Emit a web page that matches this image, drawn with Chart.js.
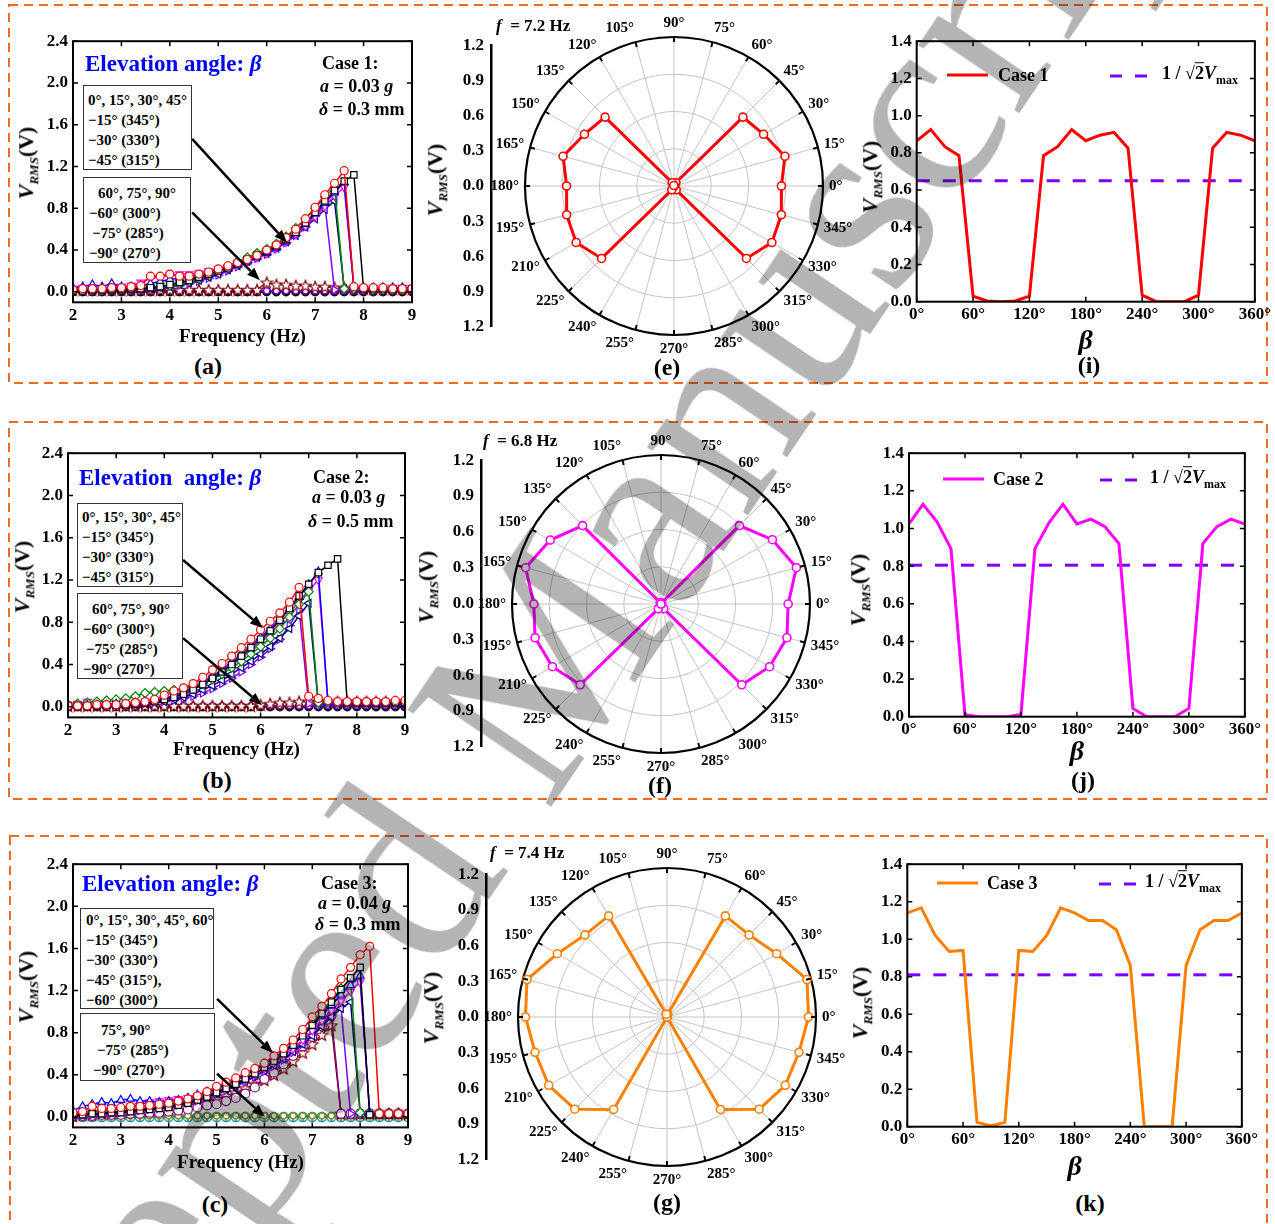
<!DOCTYPE html>
<html>
<head>
<meta charset="utf-8">
<title>V_RMS vs frequency and elevation angle</title>
<script src="https://cdn.jsdelivr.net/npm/chart.js@4.4.1/dist/chart.umd.min.js"></script>
<style>
html,body{margin:0;padding:0;background:#fff;}
body{position:relative;width:1275px;height:1224px;overflow:hidden;font-family:"Liberation Serif","Times New Roman",serif;font-weight:bold;color:#000;}
canvas{position:absolute;display:block;z-index:1;}
svg.frames{position:absolute;left:0;top:0;z-index:0;}
.t{position:absolute;white-space:nowrap;line-height:1;z-index:2;}
.c{transform:translate(-50%,-50%);}
.l{transform:translateY(-50%);}
.lab{font-size:24px;}
.case{font-size:18px;}
.elev{font-size:23px;color:#0000ff;}
.freq{font-size:17px;}
.box{position:absolute;border:1.5px solid #333;box-sizing:border-box;font-size:15px;line-height:20px;background:#fff;z-index:2;white-space:nowrap;}
.yt{position:absolute;transform:translate(-50%,-50%) rotate(-90deg);white-space:nowrap;font-size:22px;line-height:1;z-index:2;}
.yt sub{font-size:13px;}
.leg{font-size:18px;}
.leg sub{font-size:12px;}
.ln{position:absolute;height:3px;transform:translateY(-50%);z-index:2;}
.wm{position:absolute;left:512px;top:705px;transform:translate(-50%,-50%) rotate(-56deg);font-family:"Liberation Serif",serif;font-weight:normal;font-size:265px;line-height:1;color:#b4b4b4;mix-blend-mode:multiply;white-space:nowrap;z-index:5;pointer-events:none;}
</style>
</head>
<body>
<svg class="frames" width="1275" height="1224">
<g fill="none" stroke="#f26a21" stroke-width="2" stroke-dasharray="9 6">
<rect x="9" y="5" width="1258" height="378"/>
<rect x="9" y="422" width="1258" height="377"/>
<rect x="10" y="836" width="1257" height="420"/>
</g>
</svg>

<!-- panel (a) -->
<div class="t l elev" style="left:85px;top:63px">Elevation angle: <i>β</i></div>
<div class="t l case" style="left:322px;top:63px">Case 1:</div>
<div class="t l case" style="left:320px;top:86px"><i>a</i> = 0.03 <i>g</i></div>
<div class="t l case" style="left:319px;top:109px"><i>δ</i> = 0.3 mm</div>
<div class="box" style="left:83px;top:85px;width:109px;height:85px;padding:4px 0 0 4px">
<div>0°, 15°, 30°, 45°</div><div>−15° (345°)</div><div>−30° (330°)</div><div>−45° (315°)</div></div>
<div class="box" style="left:83px;top:177px;width:108px;height:86px;padding:5px 0 0 5px">
<div style="padding-left:9px">60°, 75°, 90°</div><div>−60° (300°)</div><div style="padding-left:3px">−75° (285°)</div><div>−90° (270°)</div></div>
<div class="yt" style="left:28px;top:163px"><i>V</i><sub><i>RMS</i></sub>(V)</div>
<div class="t c lab" style="left:208px;top:366px">(a)</div>

<!-- panel (b) -->
<div class="t l elev" style="left:79px;top:477px">Elevation&nbsp; angle: <i>β</i></div>
<div class="t l case" style="left:313px;top:477px">Case 2:</div>
<div class="t l case" style="left:312px;top:497px"><i>a</i> = 0.03 <i>g</i></div>
<div class="t l case" style="left:308px;top:521px"><i>δ</i> = 0.5 mm</div>
<div class="box" style="left:77px;top:503px;width:106px;height:84px;padding:3px 0 0 4px">
<div>0°, 15°, 30°, 45°</div><div>−15° (345°)</div><div>−30° (330°)</div><div>−45° (315°)</div></div>
<div class="box" style="left:77px;top:593px;width:106px;height:86px;padding:5px 0 0 5px">
<div style="padding-left:9px">60°, 75°, 90°</div><div>−60° (300°)</div><div style="padding-left:3px">−75° (285°)</div><div>−90° (270°)</div></div>
<div class="yt" style="left:24px;top:577px"><i>V</i><sub><i>RMS</i></sub>(V)</div>
<div class="t c lab" style="left:217px;top:780px">(b)</div>

<!-- panel (c) -->
<div class="t l elev" style="left:82px;top:883px">Elevation angle: <i>β</i></div>
<div class="t l case" style="left:321px;top:883px">Case 3:</div>
<div class="t l case" style="left:318px;top:903px"><i>a</i> = 0.04 <i>g</i></div>
<div class="t l case" style="left:315px;top:924px"><i>δ</i> = 0.3 mm</div>
<div class="box" style="left:80px;top:908px;width:134px;height:101px;padding:1px 0 0 5px">
<div>0°, 15°, 30°, 45°, 60°</div><div>−15° (345°)</div><div>−30° (330°)</div><div>−45° (315°),</div><div>−60° (300°)</div></div>
<div class="box" style="left:80px;top:1013px;width:135px;height:68px;padding:6px 0 0 5px">
<div style="padding-left:15px">75°, 90°</div><div style="padding-left:11px">−75° (285°)</div><div style="padding-left:7px">−90° (270°)</div></div>
<div class="yt" style="left:28px;top:987px"><i>V</i><sub><i>RMS</i></sub>(V)</div>
<div class="t c lab" style="left:215px;top:1204px">(c)</div>

<!-- polar panels -->
<div class="t l freq" style="left:496px;top:25px"><i>f</i>&nbsp; = 7.2 Hz</div>
<div class="yt" style="left:437px;top:180px"><i>V</i><sub><i>RMS</i></sub>(V)</div>
<div class="t c lab" style="left:667px;top:367px">(e)</div>
<div class="t l freq" style="left:483px;top:440px"><i>f</i>&nbsp; = 6.8 Hz</div>
<div class="yt" style="left:428px;top:587px"><i>V</i><sub><i>RMS</i></sub>(V)</div>
<div class="t c lab" style="left:660px;top:785px">(f)</div>
<div class="t l freq" style="left:490px;top:852px"><i>f</i>&nbsp; = 7.4 Hz</div>
<div class="yt" style="left:433px;top:1008px"><i>V</i><sub><i>RMS</i></sub>(V)</div>
<div class="t c lab" style="left:667px;top:1202px">(g)</div>

<!-- beta panels -->
<div class="ln" style="left:947px;top:75px;width:41px;background:#ff0000"></div>
<div class="t l leg" style="left:998px;top:75px">Case 1</div>
<div class="ln" style="left:1110px;top:76px;width:38px;background:repeating-linear-gradient(to right,#8000ff 0 12px,transparent 12px 25px)"></div>
<div class="t l leg" style="left:1162px;top:75px">1 / √<span style="text-decoration:overline">2</span><i>V</i><sub>max</sub></div>
<div class="yt" style="left:872px;top:177px"><i>V</i><sub><i>RMS</i></sub>(V)</div>
<div class="t c lab" style="left:1089px;top:365px">(i)</div>

<div class="ln" style="left:943px;top:479px;width:41px;background:#ff00ff"></div>
<div class="t l leg" style="left:993px;top:479px">Case 2</div>
<div class="ln" style="left:1100px;top:480px;width:38px;background:repeating-linear-gradient(to right,#8000ff 0 12px,transparent 12px 25px)"></div>
<div class="t l leg" style="left:1150px;top:479px">1 / √<span style="text-decoration:overline">2</span><i>V</i><sub>max</sub></div>
<div class="yt" style="left:860px;top:590px"><i>V</i><sub><i>RMS</i></sub>(V)</div>
<div class="t c lab" style="left:1083px;top:780px">(j)</div>

<div class="ln" style="left:937px;top:883px;width:41px;background:#ff8000"></div>
<div class="t l leg" style="left:987px;top:883px">Case 3</div>
<div class="ln" style="left:1099px;top:884px;width:38px;background:repeating-linear-gradient(to right,#8000ff 0 12px,transparent 12px 25px)"></div>
<div class="t l leg" style="left:1145px;top:883px">1 / √<span style="text-decoration:overline">2</span><i>V</i><sub>max</sub></div>
<div class="yt" style="left:862px;top:1003px"><i>V</i><sub><i>RMS</i></sub>(V)</div>
<div class="t c lab" style="left:1090px;top:1203px">(k)</div>

<div class="wm">Accepted Manuscript</div>

<script>
// ===================== DATA =====================
const freqHz = [2,2.2,2.4,2.6,2.8,3,3.2,3.4,3.6,3.8,4,4.2,4.4,4.6,4.8,5,5.2,5.4,5.6,5.8,6,6.2,6.4,6.6,6.8,7,7.2,7.4,7.6,7.8,8,8.2,8.4,8.6,8.8,9];
const freqTicks = [2,3,4,5,6,7,8,9];
const vTicksFreq = [0,0.4,0.8,1.2,1.6,2.0,2.4];

// Case 1 (a): a = 0.03 g, delta = 0.3 mm
const c1_b0   = [0.02,0.03,0.03,0.03,0.04,0.04,0.05,0.06,0.15,0.15,0.17,0.15,0.15,0.17,0.19,0.22,0.25,0.28,0.31,0.35,0.40,0.45,0.52,0.60,0.70,0.81,0.93,1.04,1.16,0.05,0.04,0.04,0.04,0.03,0.03,0.03];
const c1_b15  = [0.01,0.01,0.02,0.02,0.02,0.02,0.03,0.03,0.04,0.05,0.07,0.09,0.11,0.14,0.17,0.20,0.23,0.27,0.31,0.35,0.39,0.44,0.50,0.57,0.66,0.76,0.87,0.97,1.06,1.12,0.03,0.03,0.03,0.03,0.03,0.03];
const c1_b30  = [0.04,0.05,0.07,0.05,0.08,0.05,0.05,0.06,0.08,0.10,0.12,0.13,0.14,0.15,0.17,0.20,0.23,0.26,0.29,0.33,0.37,0.42,0.48,0.56,0.65,0.75,0.85,0.95,1.05,0.04,0.04,0.04,0.04,0.04,0.04,0.04];
const c1_b45  = [0.02,0.02,0.02,0.02,0.03,0.03,0.03,0.04,0.05,0.05,0.06,0.08,0.10,0.13,0.17,0.21,0.25,0.29,0.33,0.37,0.41,0.46,0.53,0.61,0.70,0.80,0.91,1.00,0.03,0.03,0.03,0.02,0.02,0.02,0.02,0.02];
const c1_bm15 = [0.03,0.04,0.04,0.04,0.05,0.05,0.06,0.09,0.13,0.14,0.16,0.17,0.17,0.18,0.20,0.22,0.24,0.27,0.30,0.33,0.37,0.42,0.48,0.55,0.63,0.72,0.82,0.92,1.00,0.04,0.04,0.04,0.04,0.04,0.04,0.04];
const c1_bm30 = [0.01,0.01,0.01,0.02,0.02,0.02,0.02,0.03,0.03,0.04,0.05,0.07,0.09,0.11,0.14,0.17,0.21,0.25,0.29,0.33,0.37,0.42,0.48,0.54,0.62,0.70,0.79,0.87,0.03,0.03,0.03,0.03,0.02,0.02,0.02,0.02];
const c1_bm45 = [0.01,0.01,0.01,0.01,0.02,0.02,0.02,0.03,0.03,0.04,0.05,0.06,0.08,0.10,0.13,0.16,0.20,0.24,0.28,0.32,0.36,0.41,0.47,0.54,0.62,0.73,0.84,0.02,0.02,0.02,0.02,0.02,0.02,0.02,0.02,0.02];
const c1_b60  = [0.02,0.02,0.02,0.02,0.02,0.02,0.02,0.02,0.02,0.02,0.02,0.02,0.02,0.02,0.02,0.02,0.02,0.02,0.02,0.02,0.09,0.07,0.07,0.06,0.06,0.05,0.05,0.04,0.04,0.03,0.03,0.03,0.03,0.03,0.03,0.03];
const c1_b75  = [0.01,0.01,0.01,0.01,0.01,0.01,0.01,0.01,0.01,0.01,0.01,0.01,0.01,0.01,0.01,0.01,0.01,0.01,0.01,0.01,0.01,0.01,0.01,0.01,0.01,0.01,0.01,0.01,0.01,0.01,0.01,0.01,0.01,0.01,0.01,0.01];
const c1_b90  = [0,0,0,0,0,0,0,0,0,0,0,0,0,0,0,0,0,0,0,0,0,0,0,0,0,0,0,0,0,0,0,0,0,0,0,0];

// Case 2 (b): a = 0.03 g, delta = 0.5 mm
const c2_b0   = [0.01,0.01,0.01,0.02,0.02,0.02,0.03,0.04,0.05,0.07,0.11,0.15,0.18,0.22,0.28,0.35,0.41,0.48,0.56,0.64,0.73,0.81,0.89,0.99,1.13,0.10,0.08,0.06,0.05,0.05,0.05,0.05,0.05,0.05,0.06,0.06];
const c2_b15  = [0.01,0.01,0.01,0.01,0.02,0.02,0.02,0.03,0.04,0.05,0.07,0.09,0.12,0.16,0.21,0.27,0.33,0.40,0.48,0.56,0.64,0.72,0.82,0.93,1.05,1.16,1.27,1.34,1.40,0.04,0.04,0.04,0.04,0.04,0.04,0.04];
const c2_b30  = [0.01,0.01,0.02,0.02,0.02,0.03,0.03,0.04,0.05,0.06,0.08,0.11,0.14,0.18,0.23,0.29,0.35,0.42,0.50,0.58,0.66,0.74,0.83,0.93,1.04,1.16,1.28,0.04,0.04,0.04,0.04,0.04,0.04,0.04,0.04,0.04];
const c2_b45  = [0.02,0.03,0.04,0.05,0.06,0.07,0.08,0.10,0.13,0.14,0.15,0.16,0.17,0.19,0.22,0.26,0.31,0.37,0.43,0.50,0.57,0.65,0.74,0.85,0.97,1.09,0.04,0.04,0.04,0.04,0.04,0.04,0.04,0.04,0.04,0.04];
const c2_bm15 = [0.02,0.03,0.05,0.04,0.03,0.03,0.03,0.04,0.05,0.06,0.08,0.10,0.13,0.17,0.22,0.27,0.33,0.40,0.47,0.54,0.62,0.70,0.79,0.89,1.00,1.10,1.20,0.05,0.04,0.04,0.04,0.04,0.04,0.04,0.04,0.04];
const c2_bm30 = [0.01,0.01,0.01,0.01,0.02,0.02,0.02,0.02,0.03,0.04,0.05,0.07,0.09,0.12,0.16,0.20,0.25,0.31,0.37,0.43,0.50,0.57,0.65,0.74,0.86,0.98,0.03,0.03,0.03,0.03,0.03,0.03,0.03,0.03,0.03,0.03];
const c2_bm45 = [0.01,0.01,0.01,0.01,0.01,0.02,0.02,0.02,0.03,0.04,0.05,0.06,0.08,0.10,0.13,0.17,0.22,0.27,0.33,0.40,0.47,0.55,0.64,0.77,0.92,0.03,0.03,0.03,0.03,0.03,0.03,0.03,0.03,0.03,0.03,0.03];
const c2_b60  = [0.01,0.01,0.01,0.01,0.01,0.01,0.01,0.01,0.01,0.01,0.01,0.01,0.01,0.01,0.01,0.01,0.01,0.01,0.01,0.01,0.02,0.03,0.04,0.04,0.05,0.05,0.05,0.05,0.05,0.05,0.05,0.05,0.05,0.05,0.05,0.05];
const c2_b75  = [0.01,0.01,0.01,0.01,0.01,0.01,0.01,0.01,0.01,0.01,0.01,0.01,0.01,0.01,0.01,0.01,0.01,0.01,0.01,0.01,0.01,0.01,0.01,0.01,0.01,0.01,0.01,0.01,0.01,0.01,0.01,0.01,0.01,0.01,0.01,0.01];
const c2_b90  = [0,0,0,0,0,0,0,0,0,0,0,0,0,0,0,0,0,0,0,0,0,0,0,0,0,0,0,0,0,0,0,0,0,0,0,0];

// Case 3 (c): a = 0.04 g, delta = 0.3 mm
const c3_b0   = [0.04,0.05,0.10,0.08,0.08,0.09,0.10,0.10,0.11,0.12,0.13,0.15,0.17,0.20,0.24,0.29,0.33,0.37,0.42,0.46,0.51,0.58,0.65,0.73,0.83,0.95,1.05,1.17,1.31,1.42,1.54,1.62,0.03,0.03,0.03,0.03];
const c3_b15  = [0.02,0.02,0.03,0.03,0.04,0.04,0.05,0.06,0.07,0.08,0.09,0.11,0.13,0.16,0.19,0.23,0.27,0.31,0.36,0.41,0.47,0.53,0.60,0.68,0.77,0.87,0.98,1.09,1.21,1.32,1.42,0.02,0.02,0.02,0.02,0.02];
const c3_b30  = [0.06,0.10,0.12,0.14,0.13,0.16,0.17,0.15,0.15,0.14,0.15,0.16,0.18,0.21,0.24,0.27,0.31,0.35,0.40,0.45,0.50,0.56,0.62,0.69,0.77,0.86,0.96,1.06,1.16,1.25,1.34,0.03,0.03,0.03,0.03,0.03];
const c3_b45  = [0.03,0.04,0.05,0.06,0.07,0.08,0.09,0.10,0.11,0.12,0.13,0.14,0.16,0.19,0.22,0.26,0.30,0.34,0.39,0.44,0.49,0.55,0.62,0.70,0.79,0.89,1.00,1.11,1.22,1.31,0.04,0.04,0.04,0.04,0.04,0.04];
const c3_bm15 = [0.02,0.03,0.04,0.05,0.06,0.08,0.10,0.12,0.14,0.15,0.16,0.17,0.18,0.20,0.22,0.25,0.28,0.32,0.36,0.41,0.46,0.52,0.58,0.65,0.73,0.82,0.91,1.01,1.10,1.19,1.28,0.04,0.04,0.04,0.04,0.04];
const c3_bm30 = [0.02,0.02,0.03,0.03,0.04,0.05,0.06,0.07,0.08,0.09,0.10,0.12,0.14,0.16,0.19,0.22,0.26,0.30,0.34,0.39,0.44,0.49,0.55,0.62,0.69,0.77,0.86,0.95,1.03,1.09,0.03,0.03,0.03,0.03,0.03,0.03];
const c3_bm45 = [0.02,0.02,0.02,0.03,0.03,0.04,0.05,0.06,0.07,0.08,0.09,0.11,0.13,0.15,0.18,0.21,0.25,0.29,0.33,0.38,0.43,0.48,0.54,0.61,0.69,0.78,0.88,0.97,1.05,0.03,0.03,0.03,0.03,0.03,0.03,0.03];
const c3_b60  = [0.01,0.01,0.01,0.02,0.02,0.02,0.03,0.03,0.04,0.04,0.05,0.06,0.07,0.09,0.11,0.12,0.15,0.18,0.22,0.28,0.36,0.42,0.50,0.58,0.67,0.76,0.86,0.96,0.03,0.03,0.03,0.03,0.03,0.03,0.03,0.03];
const c3_bm60 = [0.01,0.02,0.02,0.03,0.03,0.04,0.05,0.06,0.07,0.08,0.09,0.10,0.11,0.13,0.15,0.17,0.20,0.23,0.27,0.31,0.35,0.40,0.46,0.53,0.61,0.69,0.78,0.87,0.03,0.03,0.03,0.03,0.03,0.03,0.03,0.03];
const c3_b75  = [0.01,0.01,0.01,0.01,0.01,0.01,0.01,0.01,0.01,0.01,0.01,0.01,0.01,0.01,0.01,0.01,0.01,0.01,0.01,0.01,0.01,0.01,0.01,0.01,0.01,0.01,0.01,0.01,0.01,0.01,0.01,0.01,0.01,0.01,0.01,0.01];
const c3_b90  = [0,0,0,0,0,0,0,0,0,0,0,0,0,0,0,0,0,0,0,0,0,0,0,0,0,0,0,0,0,0,0,0,0,0,0,0];

// V_RMS versus elevation angle beta (used by the polar plots and the beta plots)
const betaDeg = [0,15,30,45,60,75,90,105,120,135,150,165,180,195,210,225,240,255,270,285,300,315,330,345,360];
const vCase1  = [0.865,0.925,0.833,0.785,0.03,0.004,0.0,0.004,0.03,0.785,0.833,0.925,0.865,0.895,0.91,0.825,0.035,0.0,0.0,0.0,0.035,0.825,0.91,0.895,0.865];
const vCase2  = [1.024,1.129,1.036,0.893,0.01,0.0,0.0,0.0,0.012,0.893,1.03,1.129,1.024,1.05,1.01,0.92,0.044,0.0,0.0,0.0,0.044,0.92,1.01,1.05,1.024];
const vCase3  = [1.14,1.167,1.02,0.935,0.94,0.023,0.005,0.023,0.94,0.935,1.02,1.167,1.14,1.10,1.10,1.05,0.86,0.0,0.0,0.0,0.86,1.05,1.10,1.10,1.14];
const thrCase1 = [0.65, 0.65];
const thrCase2 = [0.805, 0.805];
const thrCase3 = [0.81, 0.81];
const thrBeta  = [0, 360];
const betaTicks = [0,60,120,180,240,300,360];
const vTicksBeta = [0,0.2,0.4,0.6,0.8,1.0,1.2,1.4];
const polarOrder = [90,75,60,45,30,15,0,345,330,315,300,285,270,255,240,225,210,195,180,165,150,135,120,105];
const polarRings = [0,0.3,0.6,0.9,1.2];
const polarAxisTicks = [-1.2,-0.9,-0.6,-0.3,0,0.3,0.6,0.9,1.2];

// ===================== SETUP =====================
Chart.defaults.font.family = '"Liberation Serif", "Times New Roman", serif';
Chart.defaults.font.weight = 'bold';
Chart.defaults.color = '#000';
Chart.defaults.animation = false;
Chart.defaults.plugins.legend.display = false;
Chart.defaults.plugins.tooltip.enabled = false;

const framePlugin = {
  id: 'frame',
  afterDatasetsDraw(chart, args, o) {
    if (!o || !o.on) return;
    const ctx = chart.ctx, a = chart.chartArea;
    const xs = chart.scales.x, ys = chart.scales.y, L = 5;
    ctx.save();
    ctx.strokeStyle = '#000';
    ctx.lineWidth = 1.5;
    ctx.beginPath();
    xs.ticks.forEach(t => { const p = xs.getPixelForValue(t.value);
      ctx.moveTo(p, a.bottom); ctx.lineTo(p, a.bottom - L); ctx.moveTo(p, a.top); ctx.lineTo(p, a.top + L); });
    ys.ticks.forEach(t => { const p = ys.getPixelForValue(t.value);
      ctx.moveTo(a.left, p); ctx.lineTo(a.left + L, p); ctx.moveTo(a.right, p); ctx.lineTo(a.right - L, p); });
    ctx.stroke();
    ctx.lineWidth = 2;
    ctx.strokeRect(a.left, a.top, a.right - a.left, a.bottom - a.top);
    ctx.restore();
  }
};
const arrowPlugin = {
  id: 'arrows',
  afterDatasetsDraw(chart, args, o) {
    if (!o || !o.items) return;
    const xs = chart.scales.x, ys = chart.scales.y, ctx = chart.ctx;
    o.items.forEach(it => {
      const x1 = xs.getPixelForValue(it.x1), y1 = ys.getPixelForValue(it.y1);
      const x2 = xs.getPixelForValue(it.x2), y2 = ys.getPixelForValue(it.y2);
      const ang = Math.atan2(y2 - y1, x2 - x1), hl = 13, hw = 5;
      const bx = x2 - hl * Math.cos(ang), by = y2 - hl * Math.sin(ang);
      ctx.save();
      ctx.strokeStyle = '#000'; ctx.fillStyle = '#000'; ctx.lineWidth = 2.5;
      ctx.beginPath(); ctx.moveTo(x1, y1); ctx.lineTo(bx, by); ctx.stroke();
      ctx.beginPath(); ctx.moveTo(x2, y2);
      ctx.lineTo(bx + hw * Math.sin(ang), by - hw * Math.cos(ang));
      ctx.lineTo(bx - hw * Math.sin(ang), by + hw * Math.cos(ang));
      ctx.closePath(); ctx.fill();
      ctx.restore();
    });
  }
};
const polarLabelPlugin = {
  id: 'polarLabels',
  afterDraw(chart, args, o) {
    if (!o || !o.on) return;
    const s = chart.scales.r, ctx = chart.ctx, R = s.drawingArea;
    const labels = chart.data.labels;
    ctx.save();
    ctx.font = 'bold 15px "Liberation Serif", serif';
    ctx.fillStyle = '#000'; ctx.strokeStyle = '#000'; ctx.lineWidth = 2;
    labels.forEach((lab, i) => {
      const p1 = s.getPointPosition(i, R - 5), p2 = s.getPointPosition(i, R);
      ctx.beginPath(); ctx.moveTo(p1.x, p1.y); ctx.lineTo(p2.x, p2.y); ctx.stroke();
      const a = s.getIndexAngle(i) - Math.PI / 2;
      const c = Math.cos(a), sn = Math.sin(a);
      const p = s.getPointPosition(i, R + o.pad);
      ctx.textAlign = Math.abs(c) < 0.1 ? 'center' : (c > 0 ? 'left' : 'right');
      ctx.textBaseline = 'middle';
      ctx.fillText(lab, p.x, p.y + sn * 8);
    });
    ctx.restore();
  }
};
Chart.register(framePlugin, arrowPlugin, polarLabelPlugin);

function addCanvas(left, top, w, h) {
  const c = document.createElement('canvas');
  c.width = w; c.height = h;
  c.style.left = left + 'px'; c.style.top = top + 'px';
  c.style.width = w + 'px'; c.style.height = h + 'px';
  document.body.appendChild(c);
  return c;
}
function starImg(color) {
  const c = document.createElement('canvas'); c.width = 14; c.height = 14;
  const g = c.getContext('2d');
  g.strokeStyle = color; g.fillStyle = '#fff'; g.lineWidth = 1.2;
  g.beginPath();
  for (let k = 0; k < 10; k++) {
    const r = k % 2 ? 2.6 : 6, a = -Math.PI / 2 + k * Math.PI / 5;
    const x = 7 + r * Math.cos(a), y = 7.6 + r * Math.sin(a);
    if (k) g.lineTo(x, y); else g.moveTo(x, y);
  }
  g.closePath(); g.fill(); g.stroke();
  return c;
}
function circlePlusImg(color) {
  const c = document.createElement('canvas'); c.width = 12; c.height = 12;
  const g = c.getContext('2d');
  g.strokeStyle = color; g.fillStyle = '#fff'; g.lineWidth = 1.3;
  g.beginPath(); g.arc(6, 6, 4.6, 0, Math.PI * 2); g.fill(); g.stroke();
  g.beginPath(); g.moveTo(1.4, 6); g.lineTo(10.6, 6); g.moveTo(6, 1.4); g.lineTo(6, 10.6); g.stroke();
  return c;
}

function cartesian(rect, m, datasets, xOpt, yOpt, plugins) {
  const left = Math.round(rect.l - m.l), top = Math.round(rect.t - m.t);
  const right = Math.round(rect.r + m.r), bottom = Math.round(rect.b + m.b);
  const cv = addCanvas(left, top, right - left, bottom - top);
  const yW = rect.l - left, xH = bottom - rect.b, padT = rect.t - top, padR = right - rect.r;
  return new Chart(cv, {
    type: 'line',
    data: { datasets },
    options: {
      responsive: false, animation: false,
      layout: { padding: { left: 0, top: padT, right: padR, bottom: 0 } },
      scales: {
        x: Object.assign({ type: 'linear', position: 'bottom', grid: { display: false, drawTicks: false }, border: { display: false },
          afterFit: s => { s.height = xH; } }, xOpt),
        y: Object.assign({ type: 'linear', position: 'left', grid: { display: false, drawTicks: false }, border: { display: false },
          afterFit: s => { s.width = yW; } }, yOpt)
      },
      plugins: Object.assign({ frame: { on: true } }, plugins || {})
    }
  });
}

function fser(vals, color, style, extra) {
  return Object.assign({
    data: freqHz.map((f, i) => ({ x: f, y: vals[i] })),
    borderColor: color, backgroundColor: color, borderWidth: 1.5, tension: 0,
    pointStyle: style, pointRadius: 4, pointBorderWidth: 1.2,
    pointBackgroundColor: '#fff', pointBorderColor: color
  }, extra || {});
}

const freqX = {
  min: 2, max: 9,
  afterBuildTicks: s => { s.ticks = freqTicks.map(v => ({ value: v })); },
  ticks: { font: { size: 17 }, padding: 3, autoSkip: false, maxRotation: 0, callback: v => String(v) },
  title: { display: true, text: 'Frequency (Hz)', font: { size: 19 }, padding: { top: 0, bottom: 4 } }
};
const freqY = {
  min: -0.1, max: 2.4,
  afterBuildTicks: s => { s.ticks = vTicksFreq.map(v => ({ value: v })); },
  ticks: { font: { size: 17 }, padding: 5, autoSkip: false, callback: v => v.toFixed(1) }
};

function freqSets(s) {
  return [
    fser(s.b0, '#ff0000', 'circle'),
    fser(s.b15, '#000000', 'rect', { pointRadius: 4.5 }),
    fser(s.b30, '#0000ff', 'triangle', { pointRadius: 4.5 }),
    fser(s.b45, '#008000', 'rectRot', { pointRadius: 4.5 }),
    fser(s.bm15, '#ff00ff', 'triangle', { pointRadius: 4.5, pointRotation: 180 }),
    fser(s.bm30, '#000080', 'triangle', { pointRadius: 4.5, pointRotation: -90 }),
    fser(s.bm45, '#8000ff', 'triangle', { pointRadius: 4.5, pointRotation: 90 })
  ];
}

// (a)
cartesian({ l: 73, t: 38.3, r: 412, b: 302.3 }, { l: 50, t: 12, r: 10, b: 50 },
  freqSets({ b0: c1_b0, b15: c1_b15, b30: c1_b30, b45: c1_b45, bm15: c1_bm15, bm30: c1_bm30, bm45: c1_bm45 }).concat([
    fser(c1_b60, '#800000', starImg('#800000')),
    fser(c1_b75, '#8000ff', 'circle', { pointRadius: 3 }),
    fser(c1_b90, '#000000', 'circle', { pointBackgroundColor: '#000', pointRadius: 4 })
  ]), freqX, freqY,
  { arrows: { items: [{ x1: 4.46, y1: 1.465, x2: 6.42, y2: 0.47 }, { x1: 4.46, y1: 0.76, x2: 5.86, y2: 0.11 }] } });

// (b)
cartesian({ l: 68, t: 450, r: 405, b: 717.4 }, { l: 50, t: 12, r: 10, b: 48 },
  freqSets({ b0: c2_b0, b15: c2_b15, b30: c2_b30, b45: c2_b45, bm15: c2_bm15, bm30: c2_bm30, bm45: c2_bm45 }).concat([
    fser(c2_b60, '#800000', starImg('#800000')),
    fser(c2_b75, '#8000ff', 'circle', { pointRadius: 3 }),
    fser(c2_b90, '#000000', 'circle', { pointBackgroundColor: '#000', pointRadius: 4 })
  ]), freqX, freqY,
  { arrows: { items: [{ x1: 4.39, y1: 1.39, x2: 6.05, y2: 0.745 }, { x1: 4.39, y1: 0.65, x2: 6.03, y2: 0.016 }] } });

// (c)
cartesian({ l: 73, t: 860.7, r: 408, b: 1127.4 }, { l: 50, t: 12, r: 10, b: 51 },
  freqSets({ b0: c3_b0, b15: c3_b15, b30: c3_b30, b45: c3_b45, bm15: c3_bm15, bm30: c3_bm30, bm45: c3_bm45 }).concat([
    fser(c3_b60, '#800080', 'circle', { pointRadius: 4.5 }),
    fser(c3_bm60, '#800000', starImg('#800000')),
    fser(c3_b75, '#808000', 'circle', { pointRadius: 3 }),
    fser(c3_b90, '#008080', circlePlusImg('#008080'), { borderWidth: 2.5 })
  ]), freqX, freqY,
  { arrows: { items: [{ x1: 5.01, y1: 1.12, x2: 6.18, y2: 0.606 }, { x1: 5.01, y1: 0.41, x2: 6.01, y2: 0.0 }] } });

// polar plots
function polarChart(cx, cy, R, vals, color) {
  const P = 48;
  const cv = addCanvas(cx - R - P, cy - R - P, 2 * (R + P), 2 * (R + P));
  return new Chart(cv, {
    type: 'radar',
    data: {
      labels: polarOrder.map(a => a + '°'),
      datasets: [{
        data: polarOrder.map(a => vals[betaDeg.indexOf(a)]),
        borderColor: color, backgroundColor: 'rgba(0,0,0,0)', borderWidth: 3, fill: false, tension: 0,
        pointRadius: 4, pointBorderWidth: 1.6, pointBackgroundColor: '#fff', pointBorderColor: color
      }]
    },
    options: {
      responsive: false, animation: false,
      layout: { padding: P },
      scales: {
        r: {
          min: 0, max: 1.2, startAngle: 0,
          afterBuildTicks: s => { s.ticks = polarRings.map(v => ({ value: v })); },
          ticks: { display: false },
          pointLabels: { display: false },
          grid: { circular: true,
            color: c => (c.tick && c.tick.value > 1.15) ? '#000' : '#c4c4c4',
            lineWidth: c => (c.tick && c.tick.value > 1.15) ? 2.2 : 1 },
          angleLines: { color: '#c4c4c4', lineWidth: 1 }
        }
      },
      plugins: { polarLabels: { on: true, pad: 6 } }
    }
  });
}
function polarAxis(axisX, yTop, yBot) {
  const ml = 52, mt = 12;
  const left = Math.round(axisX) - ml, top = Math.round(yTop) - mt;
  const h = Math.round(yBot) - Math.round(yTop) + 2 * mt;
  const cv = addCanvas(left, top, ml + 6, h);
  return new Chart(cv, {
    type: 'scatter',
    data: { datasets: [] },
    options: {
      responsive: false, animation: false,
      layout: { padding: { top: mt, bottom: mt, left: 0, right: 0 } },
      scales: {
        x: { display: false, min: 0, max: 1 },
        y: {
          min: -1.2, max: 1.2,
          afterBuildTicks: s => { s.ticks = polarAxisTicks.map(v => ({ value: v })); },
          afterFit: s => { s.width = ml; },
          ticks: { font: { size: 17 }, padding: 7, autoSkip: false, callback: v => Math.abs(v).toFixed(1) },
          grid: { display: false, drawTicks: false },
          border: { display: true, color: '#000', width: 2.5 }
        }
      }
    }
  });
}
polarAxis(491, 40, 332);
polarChart(674, 186, 149, vCase1, '#ff0000');
polarAxis(481, 455, 752);
polarChart(661, 604, 149, vCase2, '#ff00ff');
polarAxis(486, 869, 1165);
polarChart(667, 1017, 149, vCase3, '#ff8000');

// beta plots
const betaX = {
  min: 0, max: 360,
  afterBuildTicks: s => { s.ticks = betaTicks.map(v => ({ value: v })); },
  ticks: { font: { size: 17 }, padding: 3, autoSkip: false, maxRotation: 0, callback: v => v + '°' },
  title: { display: true, text: 'β', font: { size: 28, style: 'italic' }, padding: { top: 0, bottom: 4 } }
};
const betaY = {
  min: 0, max: 1.4,
  afterBuildTicks: s => { s.ticks = vTicksBeta.map(v => ({ value: v })); },
  ticks: { font: { size: 17 }, padding: 5, autoSkip: false, callback: v => v.toFixed(1) }
};
function betaChart(rect, mb, vals, thr, color) {
  return cartesian(rect, { l: 50, t: 12, r: 18, b: mb }, [
    { data: betaDeg.map((b, i) => ({ x: b, y: vals[i] })), borderColor: color, borderWidth: 3, pointRadius: 0, tension: 0 },
    { data: thrBeta.map((b, i) => ({ x: b, y: thr[i] })), borderColor: '#8000ff', borderWidth: 3, borderDash: [13, 13], pointRadius: 0 }
  ], betaX, betaY);
}
betaChart({ l: 916.7, t: 38.3, r: 1256, b: 301.7 }, 61, vCase1, thrCase1, '#ff0000');
betaChart({ l: 909, t: 450, r: 1245.7, b: 716.7 }, 57, vCase2, thrCase2, '#ff00ff');
betaChart({ l: 907.3, t: 860.7, r: 1243.3, b: 1126.7 }, 62, vCase3, thrCase3, '#ff8000');
</script>
</body>
</html>
